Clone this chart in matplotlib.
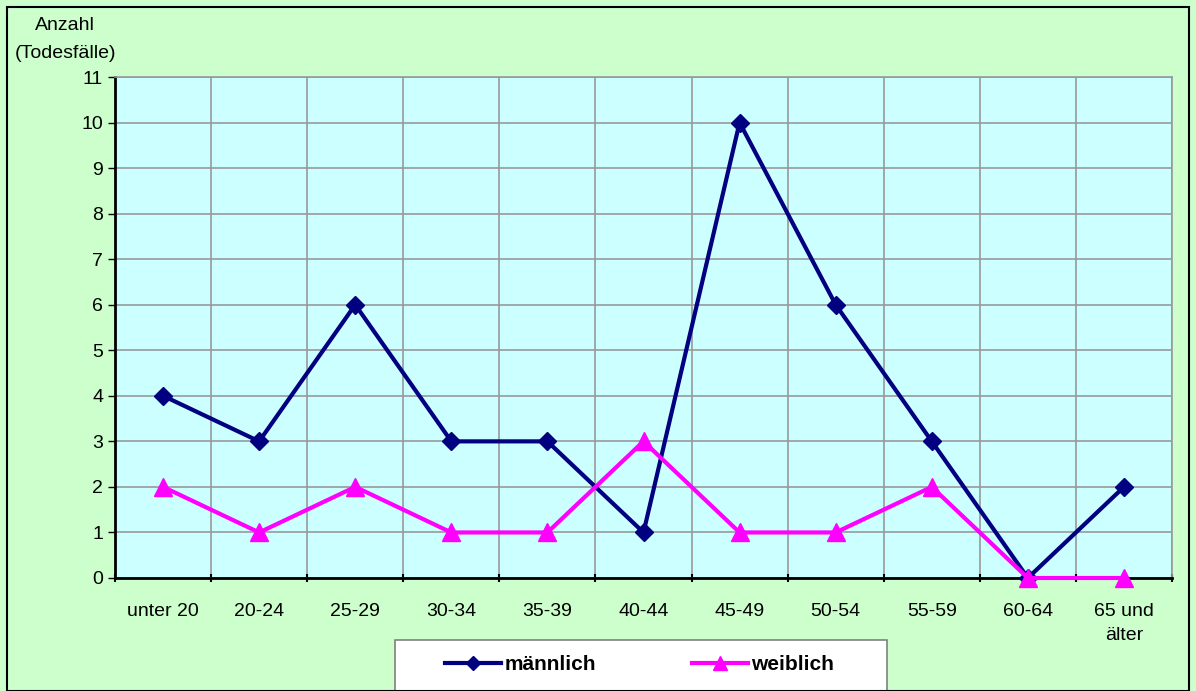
import matplotlib
matplotlib.use("Agg")
import matplotlib.pyplot as plt
from matplotlib.patches import Rectangle

# age groups and death counts
categories = ['unter 20', '20-24', '25-29', '30-34', '35-39', '40-44',
              '45-49', '50-54', '55-59', '60-64', '65 und\nälter']
maennlich = [4, 3, 6, 3, 3, 1, 10, 6, 3, 0, 2]
weiblich = [2, 1, 2, 1, 1, 3, 1, 1, 2, 0, 0]

plt.rcParams['font.family'] = ['Liberation Sans', 'DejaVu Sans']

fig = plt.figure(figsize=(11.96, 6.91), dpi=100, facecolor='#CCFFCC')
ax = fig.add_axes([115/1196, 1-578/691, (1172-115)/1196, (578-77)/691])
ax.set_facecolor('#CCFFFF')

x = list(range(len(categories)))
ax.plot(x, maennlich, color='#000080', lw=3, marker='D', ms=9,
        label='männlich', zorder=3, clip_on=False)
ax.plot(x, weiblich, color='#FF00FF', lw=3, marker='^', ms=13,
        label='weiblich', zorder=4, clip_on=False)

ax.set_xlim(-0.5, len(categories) - 0.5)
ax.set_ylim(0, 11)
ax.set_yticks(range(0, 12))
ax.tick_params(axis='y', labelsize=14, length=5, width=1, direction='out')

# gridlines at category boundaries
bounds = [i - 0.5 for i in range(len(categories) + 1)]
ax.set_xticks(bounds)
ax.set_xticklabels([])
ax.set_xticks(x, minor=True)
ax.set_xticklabels(categories, minor=True, fontsize=14, linespacing=1.5)
ax.tick_params(axis='x', which='major', length=6, width=1.5, direction='inout')
ax.tick_params(axis='x', which='minor', length=0, pad=18)
ax.grid(True, which='major', color='#999999', lw=1.2, zorder=0)
ax.set_axisbelow(True)

for s in ['top', 'right']:
    ax.spines[s].set_color('#999999')
    ax.spines[s].set_linewidth(1.2)
for s in ['left', 'bottom']:
    ax.spines[s].set_color('black')
    ax.spines[s].set_linewidth(2)

fig.text(65/1196, 1-25/691, 'Anzahl', ha='center', va='center', fontsize=14)
fig.text(65/1196, 1-54/691, '(Todesfälle)', ha='center', va='center', fontsize=14)

# legend box (runs off the bottom edge)
fig.patches.append(Rectangle((395/1196, -0.02), 492/1196, (691-640)/691 + 0.02,
                             transform=fig.transFigure, facecolor='white',
                             edgecolor='#808080', lw=1.2, zorder=1))
leg = fig.legend(loc='center left', bbox_to_anchor=(445/1196, 1-665/691),
                 ncol=2, frameon=False, handlelength=2.7,
                 handletextpad=0.15, columnspacing=4.6, borderpad=0,
                 borderaxespad=0, markerscale=0.75,
                 prop={'weight': 'bold', 'size': 15})
leg.set_zorder(5)

fig.patches.append(Rectangle((7/1196, 0), 1182/1196, 1-7/691,
                             transform=fig.transFigure, fill=False,
                             edgecolor='black', lw=1.5))

fig.savefig('out.png', dpi=100, facecolor=fig.get_facecolor())
